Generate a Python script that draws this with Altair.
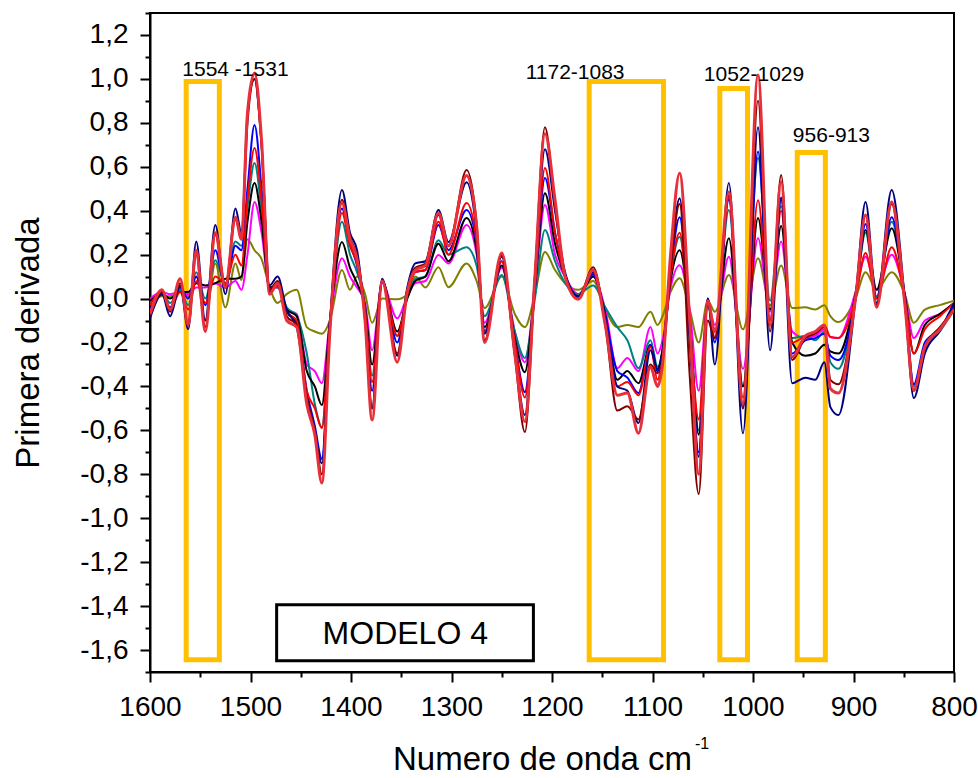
import altair as alt
import pandas as pd

WN = [1600,1588,1580,1570,1562,1554,1545,1535,1525,1515,
      1509,1503,1496,1489,1481,1473,1464,1454,1444,1436,
      1429,1421,1409,1401,1394,1386,1379,1369,1354,1344,
      1336,1326,1313,1303,1285,1275,1267,1250,1237,1227,
      1217,1207,1197,1187,1174,1159,1147,1135,1125,1114,
      1102,1095,1090,1082,1073,1063,1054,1045,1038,1024,
      1010,995,983,972,961,948,938,929,923,915,
      898,888,877,862,849,840,829,814,800]

NAVY = [-0.09,0.02,-0.08,0.06,-0.14, 0.26,-0.10,0.335,0.02,0.41,
        0.30,0.84,1.00,0.70,0.06, 0.10,-0.05,-0.13,-0.45,-0.60,
        -0.75,-0.12,0.494,0.30,0.22, -0.10,-0.50,0.09,-0.26,0.05,
        0.16,0.17,0.403,0.257,0.53, 0.30,-0.16,0.19,-0.25,-0.53,
        0.10,0.68,0.40,0.12,0.01, 0.12,-0.10,-0.40,-0.42,-0.567,
        -0.235,-0.32,-0.24,0.15,0.457, -0.20,-0.72,0.00,-0.30,0.526,
        -0.613,0.78,-0.235,0.46,-0.385, -0.36,-0.37,-0.29,-0.494,-0.53,
        0.00,0.44,-0.02,0.494,0.00, -0.453,-0.25,-0.145,-0.02]

MAROON = [-0.08,0.03,-0.06,0.07,-0.12, 0.20,-0.13,0.29,0.06,0.36,
          0.28,0.80,1.00,0.70,0.04, 0.08,-0.08,-0.12,-0.45,-0.60,
          -0.80,-0.14,0.45,0.28,0.19, -0.08,-0.50,0.08,-0.25,0.04,
          0.14,0.16,0.38,0.24,0.585, 0.34,-0.19,0.20,-0.26,-0.608,
          0.10,0.78,0.42,0.11,0.00, 0.143,-0.12,-0.51,-0.49,-0.55,
          -0.30,-0.34,-0.28,0.14,0.43, -0.35,-0.89,-0.10,-0.18,0.47,
          -0.50,0.90,-0.15,0.562,-0.28, -0.18,-0.16,-0.13,-0.37,-0.39,
          0.00,0.38,-0.03,0.43,-0.02, -0.42,-0.22,-0.13,-0.05]

CRIMSON = [-0.07,0.04,-0.05,0.09,-0.12, 0.22,-0.15,0.30,0.05,0.37,
           0.27,0.845,1.027,0.72,0.02, 0.07,-0.10,-0.13,-0.48,-0.62,
           -0.84,-0.15,0.435,0.27,0.18, -0.10,-0.553,0.08,-0.29,0.03,
           0.13,0.15,0.39,0.24,0.56, 0.33,-0.20,0.207,-0.25,-0.56,
           0.10,0.75,0.45,0.10,-0.003, 0.13,-0.12,-0.44,-0.43,-0.613,
           -0.31,-0.40,-0.30,0.20,0.571, -0.10,-0.80,-0.01,-0.15,0.485,
           -0.476,1.018,-0.12,0.53,-0.266, -0.17,-0.15,-0.12,-0.41,-0.43,
           0.00,0.38,-0.04,0.44,-0.02, -0.417,-0.22,-0.14,-0.05]

RED = [-0.03,0.03,-0.05,0.03,-0.05, 0.08,-0.02,0.10,0.07,0.20,
       0.15,0.45,0.685,0.45,0.04, 0.06,-0.06,-0.10,-0.42,-0.50,
       -0.59,-0.12,0.39,0.24,0.16, -0.05,-0.38,0.08,-0.17,0.02,
       0.12,0.13,0.35,0.20,0.435, 0.26,-0.15,0.17,-0.20,-0.45,
       0.05,0.594,0.30,0.10,0.01, 0.12,-0.10,-0.40,-0.38,-0.44,
       -0.22,-0.37,-0.26,0.10,0.30, -0.15,-0.55,-0.01,-0.18,0.46,
       -0.45,0.448,-0.10,0.40,-0.20, -0.17,-0.15,-0.12,-0.175,-0.18,
       0.00,0.207,0.00,0.234,0.00, -0.25,-0.14,-0.08,-0.02]

BLUE = [-0.05,0.02,-0.04,0.05,0.00, 0.10,-0.03,0.22,0.05,0.24,
        0.22,0.50,0.79,0.50,0.03, 0.07,-0.06,-0.11,-0.42,-0.58,
        -0.73,-0.12,0.41,0.25,0.15, -0.05,-0.42,0.08,-0.20,0.03,
        0.12,0.13,0.335,0.22,0.403, 0.25,-0.15,0.17,-0.20,-0.426,
        0.05,0.549,0.30,0.10,0.01, 0.11,-0.08,-0.33,-0.36,-0.43,
        -0.21,-0.33,-0.25,0.12,0.37, -0.15,-0.70,0.00,-0.20,0.45,
        -0.50,0.67,-0.10,0.45,-0.25, -0.19,-0.18,-0.16,-0.26,-0.28,
        0.00,0.34,0.00,0.37,0.00, -0.39,-0.20,-0.14,-0.04]

TEAL = [-0.02,0.03,-0.02,0.04,-0.03, 0.12,0.00,0.175,0.07,0.26,
        0.24,0.42,0.617,0.40,0.05, 0.05,-0.04,-0.08,-0.25,-0.48,
        -0.585,-0.12,0.35,0.20,0.12, -0.03,-0.35,0.08,-0.17,0.01,
        0.09,0.10,0.266,0.20,0.234, 0.15,-0.08,0.107,-0.15,-0.27,
        0.00,0.312,0.17,0.07,0.02, 0.06,-0.04,-0.13,-0.19,-0.317,
        -0.19,-0.31,-0.24,0.10,0.28, -0.12,-0.60,-0.02,-0.15,0.403,
        -0.40,0.64,-0.01,0.42,-0.18, -0.17,-0.19,-0.15,-0.29,-0.32,
        0.00,0.30,0.01,0.35,0.00, -0.40,-0.24,-0.15,-0.05]

BLACK = [-0.01,0.02,0.00,0.03,0.03, 0.07,0.06,0.07,0.09,0.09,
         0.10,0.35,0.526,0.35,0.05, 0.06,-0.05,-0.08,-0.33,-0.40,
         -0.485,-0.10,0.257,0.14,0.07, -0.04,-0.30,0.08,-0.15,0.00,
         0.08,0.10,0.25,0.17,0.367, 0.22,-0.13,0.15,-0.18,-0.335,
         0.05,0.48,0.25,0.10,0.01, 0.10,-0.07,-0.37,-0.33,-0.385,
         -0.21,-0.33,-0.23,0.08,0.22, -0.10,-0.62,-0.03,-0.15,0.275,
         -0.40,0.367,-0.05,0.33,-0.20, -0.26,-0.25,-0.21,-0.24,-0.25,
         0.02,0.312,0.04,0.32,0.02, -0.25,-0.12,-0.07,-0.02]

MAGENTA = [0.00,0.03,0.02,0.03,0.02, 0.05,0.05,0.07,0.05,0.08,
           0.04,0.20,0.44,0.30,0.05, 0.05,-0.05,-0.07,-0.30,-0.33,
           -0.385,-0.10,0.184,0.10,0.05, -0.02,-0.235,0.07,-0.09,0.01,
           0.07,0.08,0.198,0.16,0.335, 0.20,-0.11,0.14,-0.15,-0.29,
           0.05,0.426,0.20,0.10,0.02, 0.10,-0.05,-0.317,-0.27,-0.33,
           -0.13,-0.25,-0.19,0.05,0.152, -0.05,-0.42,-0.02,-0.12,0.19,
           -0.32,0.275,-0.06,0.26,-0.15, -0.18,-0.17,-0.14,-0.175,-0.18,
           0.03,0.19,0.04,0.20,0.02, -0.18,-0.10,-0.07,-0.02]

OLIVE = [-0.01,0.01,0.01,0.03,0.01, 0.10,-0.10,0.16,-0.04,0.16,
         0.085,0.27,0.22,0.18,0.05, -0.02,0.02,0.04,-0.13,-0.15,
         -0.16,-0.10,0.13,0.04,0.10, 0.02,-0.11,0.00,-0.003,0.02,
         0.10,0.05,0.143,0.052,0.16, 0.08,-0.043,0.10,-0.07,-0.13,
         0.02,0.212,0.13,0.07,0.04, 0.08,-0.05,-0.13,-0.12,-0.13,
         -0.06,-0.12,-0.08,0.03,0.093, -0.05,-0.20,-0.01,-0.06,0.107,
         -0.14,0.184,-0.03,0.15,-0.043, -0.04,-0.05,-0.03,-0.08,-0.107,
         0.00,0.12,0.04,0.12,0.02, -0.11,-0.05,-0.03,-0.01]

# draw order (back to front), colour, stroke width
SERIES = [
    ("olive", OLIVE, "#808000", 2),
    ("magenta", MAGENTA, "#FF00FF", 2),
    ("teal", TEAL, "#008080", 2),
    ("black", BLACK, "#000000", 2),
    ("blue", BLUE, "#0000FF", 2),
    ("red", RED, "#FF0000", 2),
    ("navy", NAVY, "#000080", 2),
    ("maroon", MAROON, "#800000", 2),
    ("crimson", CRIMSON, "#E8303A", 3),
]

BOX_X1 = [1564, 1163, 1033, 956]
BOX_X2 = [1531, 1089, 1005.5, 928]
BOX_TOP = [0.988, 0.988, 0.956, 0.665]
BOX_BOTTOM = [-1.644, -1.644, -1.644, -1.644]

LABEL_TEXT = ["1554 -1531", "1172-1083", "1052-1029", "956-913"]
LABEL_X = [1515, 1177, 999, 922]
LABEL_Y = [1.013, 0.999, 0.99, 0.713]

MODEL_BOX = {"x": [1474], "x2": [1218.5], "y": [-1.394], "y2": [-1.649]}
MODEL_TEXT = {"t": ["MODELO 4"], "x": [1346], "y": [-1.528]}

MAJOR_X = list(range(800, 1601, 100))
MINOR_X = list(range(850, 1600, 100))
MAJOR_Y = [round(-1.6 + 0.2 * i, 1) for i in range(15)]
MINOR_Y = [round(-1.7 + 0.2 * i, 1) for i in range(16)]

FONT = "Liberation Sans"
W, H = 804, 659

xs = alt.Scale(domain=[800, 1600], reverse=True, nice=False, zero=False)
ys = alt.Scale(domain=[-1.7, 1.3], nice=False, zero=False)

comma_expr = "(datum.value < 0 ? '-' : '') + replace(format(abs(datum.value), '.1f'), '.', ',')"

x_main = alt.Axis(values=MAJOR_X, orient="bottom", tickSize=10, tickWidth=2, tickColor="black",
                  domainWidth=2, domainColor="black", labelFontSize=28, labelFont=FONT,
                  labelColor="black", labelPadding=11, labelFlush=False, labelOverlap=False,
                  grid=False, format="d",
                  title="Numero de onda cm", titleFont=FONT, titleFontSize=33,
                  titleFontWeight="normal", titleColor="black", titleBaseline="alphabetic",
                  titleY=97, titleX=392)
y_main = alt.Axis(values=MAJOR_Y, orient="left", tickSize=10, tickWidth=2, tickColor="black",
                  domainWidth=2, domainColor="black", labelFontSize=28, labelFont=FONT,
                  labelColor="black", labelPadding=12, labelFlush=False, labelOverlap=False,
                  grid=False, labelExpr=comma_expr,
                  title="Primera derivada", titleFont=FONT, titleFontSize=33,
                  titleFontWeight="normal", titleColor="black", titleBaseline="middle",
                  titleX=-122)
x_minor = alt.Axis(values=MINOR_X, orient="bottom", tickSize=5, tickWidth=2, tickColor="black",
                   domain=False, labels=False, grid=False, title=None)
y_minor = alt.Axis(values=MINOR_Y, orient="left", tickSize=5, tickWidth=2, tickColor="black",
                   domain=False, labels=False, grid=False, title=None)

layers = []
for i, (name, vals, col, sw) in enumerate(SERIES):
    df = pd.DataFrame({"wn": WN, "v": vals})
    ax_x = x_main if i == 0 else None
    ax_y = y_main if i == 0 else None
    layers.append(
        alt.Chart(df).mark_line(color=col, strokeWidth=sw, interpolate="monotone", clip=True).encode(
            x=alt.X("wn:Q", scale=xs, axis=ax_x),
            y=alt.Y("v:Q", scale=ys, axis=ax_y),
            order="wn:Q",
        )
    )

boxes = pd.DataFrame({"x": BOX_X1, "x2": BOX_X2, "y": BOX_TOP, "y2": BOX_BOTTOM})
box_layer = alt.Chart(boxes).mark_rect(filled=False, stroke="#FFC000", strokeWidth=5).encode(
    x=alt.X("x:Q", scale=xs, axis=x_minor), x2="x2:Q",
    y=alt.Y("y:Q", scale=ys, axis=y_minor), y2="y2:Q",
)

labels = pd.DataFrame({"t": LABEL_TEXT, "x": LABEL_X, "y": LABEL_Y})
label_layer = alt.Chart(labels).mark_text(font=FONT, fontSize=21, color="black",
                                          baseline="alphabetic", align="center").encode(
    x=alt.X("x:Q", scale=xs, axis=None), y=alt.Y("y:Q", scale=ys, axis=None), text="t:N")

model_box = alt.Chart(pd.DataFrame(MODEL_BOX)).mark_rect(filled=False, stroke="black", strokeWidth=3).encode(
    x=alt.X("x:Q", scale=xs, axis=None), x2="x2:Q",
    y=alt.Y("y:Q", scale=ys, axis=None), y2="y2:Q")
model_text = alt.Chart(pd.DataFrame(MODEL_TEXT)).mark_text(font=FONT, fontSize=32, color="black",
                                                          baseline="middle", align="center").encode(
    x=alt.X("x:Q", scale=xs, axis=None), y=alt.Y("y:Q", scale=ys, axis=None), text="t:N")

sup = alt.Chart(pd.DataFrame({"t": ["-1"]})).mark_text(font=FONT, fontSize=16, color="black",
                                                      align="left", baseline="alphabetic").encode(
    x=alt.value(545), y=alt.value(H + 77), text="t:N")

chart = alt.layer(box_layer, *layers, label_layer, model_box, model_text, sup).resolve_axis(
    x="independent", y="independent"
).properties(
    width=W, height=H,
    autosize=alt.AutoSizeParams(type="none"),
    padding={"left": 150, "top": 13, "right": 24, "bottom": 106},
).configure_view(stroke="black", strokeWidth=2)

chart.save("out.html", embed_options={"renderer": "svg", "actions": False})
